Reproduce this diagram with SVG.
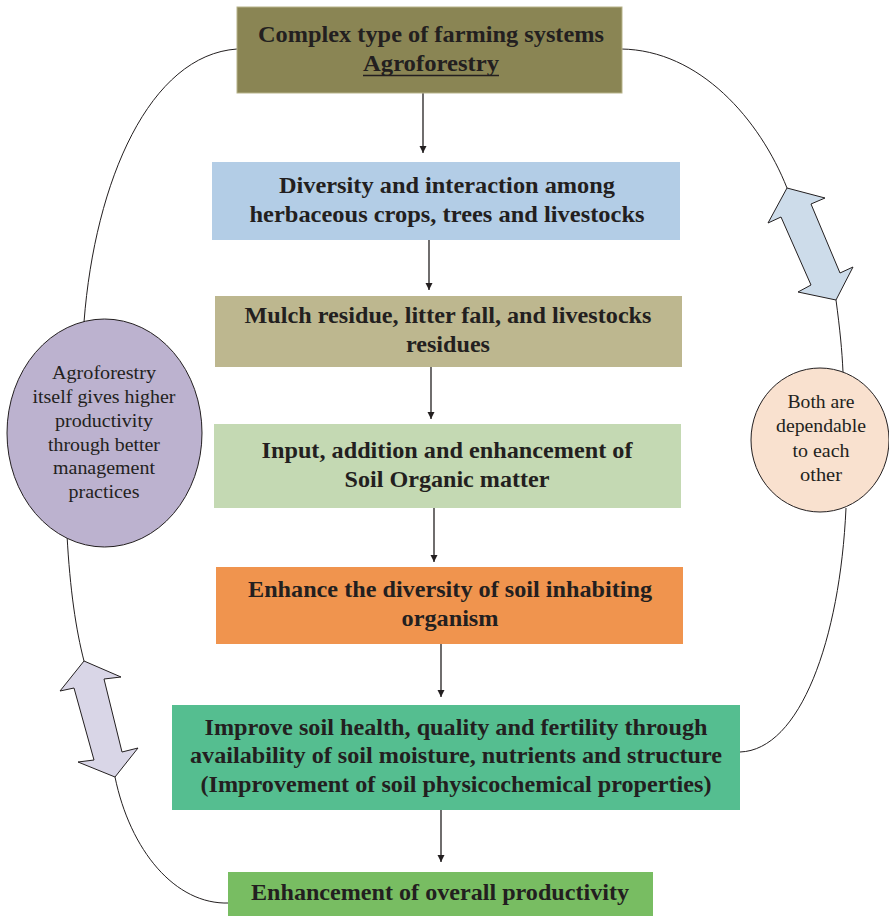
<svg xmlns="http://www.w3.org/2000/svg" width="889" height="916" viewBox="0 0 889 916">
<defs>
<style>
.bt{font-family:"Liberation Serif","Times New Roman",serif;font-weight:bold;font-size:23px;fill:#231f20;text-anchor:middle}
.et{font-family:"Liberation Serif","Times New Roman",serif;font-size:18px;fill:#231f20;text-anchor:middle}
.con{fill:none;stroke:#231f20;stroke-width:1}
.arr{fill:none;stroke:#231f20;stroke-width:1.3;marker-end:url(#ah)}
.dbl{stroke:#231f20;stroke-width:1;stroke-linejoin:miter}
</style>
<marker id="ah" viewBox="0 0 10 10" refX="10" refY="5" markerWidth="7" markerHeight="9" markerUnits="userSpaceOnUse" orient="auto">
<path d="M0,0 L10,5 L0,10 z" fill="#231f20"/>
</marker>
</defs>
<rect width="889" height="916" fill="#ffffff"/>
<g id="connectors">
<path class="con" d="M237,49 C150,55 95,180 84,322"/>
<path class="con" d="M67,535 C70,590 76,630 84,661"/>
<path class="con" d="M115,777 C130,850 175,905 229,903"/>
<path class="con" d="M621,49 C700,50 760,120 787,188"/>
<path class="con" d="M836,300 C840,330 842,350 843,372"/>
<path class="con" d="M846,508 C840,640 800,750 740,752"/>
<line class="arr" x1="423" y1="93" x2="423" y2="153"/>
<line class="arr" x1="429" y1="240" x2="429" y2="290"/>
<line class="arr" x1="431" y1="367" x2="431" y2="419"/>
<line class="arr" x1="434" y1="508" x2="434" y2="562"/>
<line class="arr" x1="441" y1="644" x2="441" y2="697"/>
<line class="arr" x1="441" y1="810" x2="441" y2="862"/>
<polygon id="dblarrow-left" class="dbl" fill="#d9d6e7" points="84,661 60,691 74,688 94,760 78,762 115,777 138,748 122,752 104,679 121,677"/>
<polygon id="dblarrow-right" class="dbl" fill="#cddcea" points="787,188 768,223 781,217 811,285 798,292 836,300 853,267 840,273 811,204 825,198"/>
</g>
<g id="n1">
<rect x="237" y="7" width="385" height="86" fill="#8a8554" stroke="#b7b38a" stroke-width="1"/>
<text class="bt" x="431" y="42" textLength="346" lengthAdjust="spacingAndGlyphs">Complex type of farming systems</text>
<text class="bt" x="431" y="71" textLength="136" lengthAdjust="spacingAndGlyphs">Agroforestry</text>
<line x1="363" y1="75.5" x2="499" y2="75.5" stroke="#231f20" stroke-width="1.6"/>
</g>
<g id="n2">
<rect x="212" y="162" width="468" height="78" fill="#b3cde6"/>
<text class="bt" x="447" y="193" textLength="336" lengthAdjust="spacingAndGlyphs">Diversity and interaction among</text>
<text class="bt" x="447" y="222" textLength="395" lengthAdjust="spacingAndGlyphs">herbaceous crops, trees and livestocks</text>
</g>
<g id="n3">
<rect x="215" y="296" width="467" height="71" fill="#bdb78f"/>
<text class="bt" x="448" y="323" textLength="407" lengthAdjust="spacingAndGlyphs">Mulch residue, litter fall, and livestocks</text>
<text class="bt" x="448" y="352" textLength="84" lengthAdjust="spacingAndGlyphs">residues</text>
</g>
<g id="n4">
<rect x="214" y="424" width="467" height="84" fill="#c4d9b3"/>
<text class="bt" x="447" y="458" textLength="371" lengthAdjust="spacingAndGlyphs">Input, addition and enhancement of</text>
<text class="bt" x="447" y="487" textLength="205" lengthAdjust="spacingAndGlyphs">Soil Organic matter</text>
</g>
<g id="n5">
<rect x="216" y="567" width="467" height="77" fill="#f0944e"/>
<text class="bt" x="450" y="597" textLength="404" lengthAdjust="spacingAndGlyphs">Enhance the diversity of soil inhabiting</text>
<text class="bt" x="450" y="626" textLength="97" lengthAdjust="spacingAndGlyphs">organism</text>
</g>
<g id="n6">
<rect x="172" y="705" width="568" height="105" fill="#55be90"/>
<text class="bt" x="456" y="735" textLength="503" lengthAdjust="spacingAndGlyphs">Improve soil health, quality and fertility through</text>
<text class="bt" x="456" y="763" textLength="532" lengthAdjust="spacingAndGlyphs">availability of soil moisture, nutrients and structure</text>
<text class="bt" x="456" y="792" textLength="511" lengthAdjust="spacingAndGlyphs">(Improvement of soil physicochemical properties)</text>
</g>
<g id="n7">
<rect x="228" y="872" width="425" height="44" fill="#78bd62"/>
<text class="bt" x="440" y="900" textLength="378" lengthAdjust="spacingAndGlyphs">Enhancement of overall productivity</text>
</g>
<g id="e1">
<ellipse cx="104.5" cy="433" rx="97.5" ry="114" fill="#bcb2cf" stroke="#231f20" stroke-width="1"/>
<text class="et" x="104" y="379" textLength="104" lengthAdjust="spacingAndGlyphs">Agroforestry</text>
<text class="et" x="104" y="403" textLength="143" lengthAdjust="spacingAndGlyphs">itself gives higher</text>
<text class="et" x="104" y="427" textLength="98" lengthAdjust="spacingAndGlyphs">productivity</text>
<text class="et" x="104" y="451" textLength="112" lengthAdjust="spacingAndGlyphs">through better</text>
<text class="et" x="104" y="474" textLength="102" lengthAdjust="spacingAndGlyphs">management</text>
<text class="et" x="104" y="498" textLength="71" lengthAdjust="spacingAndGlyphs">practices</text>
</g>
<g id="e2">
<ellipse cx="820" cy="440" rx="69" ry="72" fill="#f9e1cf" stroke="#231f20" stroke-width="1"/>
<text class="et" x="821" y="408" textLength="67" lengthAdjust="spacingAndGlyphs">Both are</text>
<text class="et" x="821" y="432" textLength="90" lengthAdjust="spacingAndGlyphs">dependable</text>
<text class="et" x="821" y="457" textLength="57" lengthAdjust="spacingAndGlyphs">to each</text>
<text class="et" x="821" y="481" textLength="42" lengthAdjust="spacingAndGlyphs">other</text>
</g>
</svg>
